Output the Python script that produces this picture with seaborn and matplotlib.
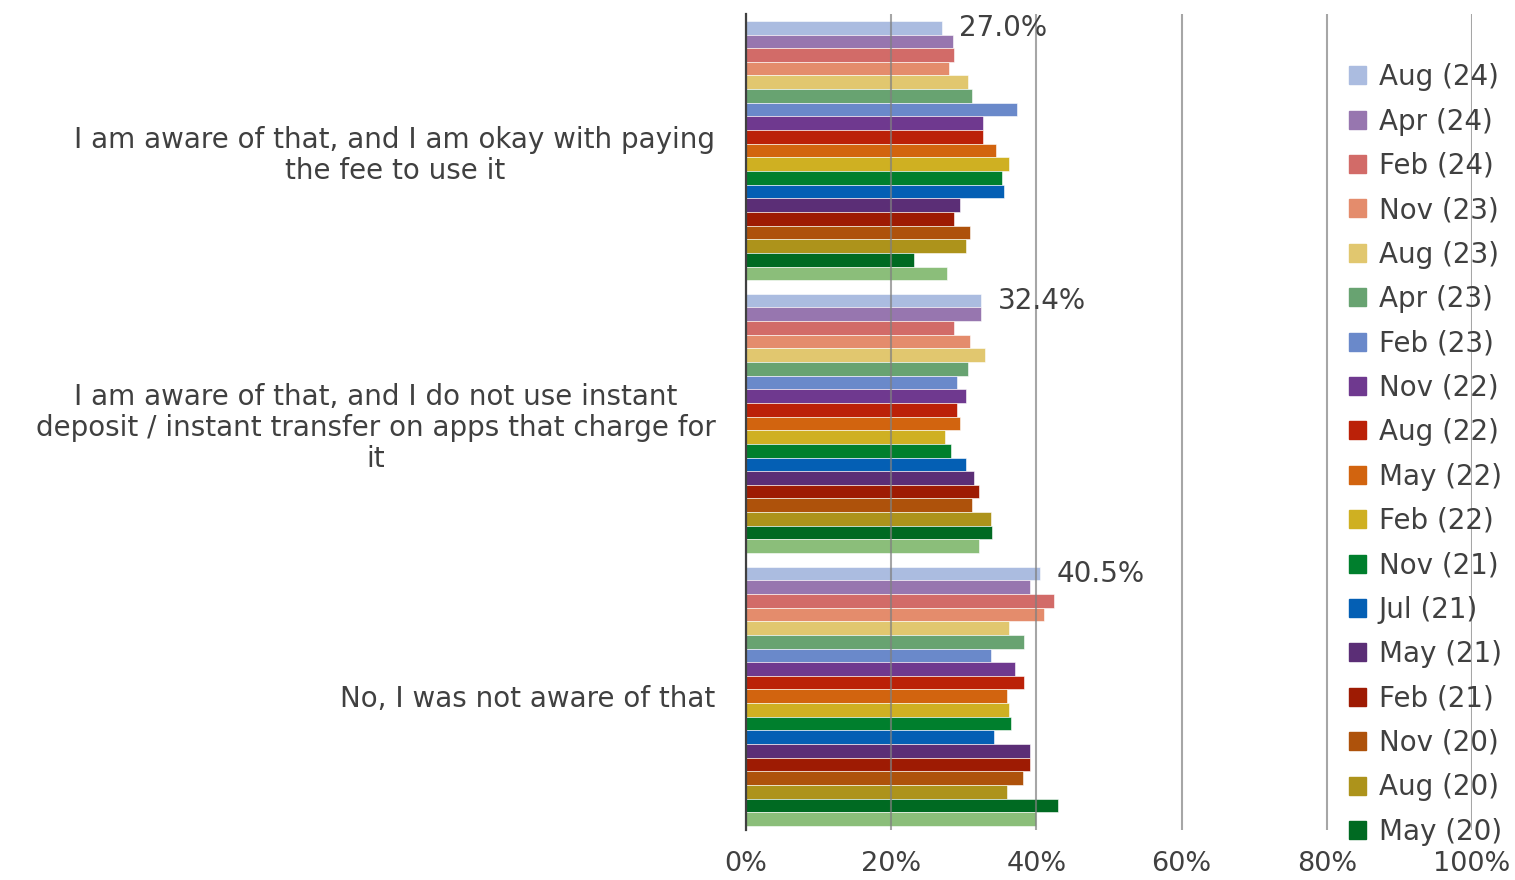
import pandas as pd
import numpy as np
import matplotlib
matplotlib.use("Agg")
import matplotlib.pyplot as plt
import seaborn as sns

# ---- data ----
categories = [
    "I am aware of that, and I am okay with paying\nthe fee to use it",
    "I am aware of that, and I do not use instant\ndeposit / instant transfer on apps that charge for\nit",
    "No, I was not aware of that",
]
waves = ["Aug (24)", "Apr (24)", "Feb (24)", "Nov (23)", "Aug (23)", "Apr (23)",
         "Feb (23)", "Nov (22)", "Aug (22)", "May (22)", "Feb (22)", "Nov (21)",
         "Jul (21)", "May (21)", "Feb (21)", "Nov (20)", "Aug (20)", "May (20)",
         "Feb (20)"]
okay_paying = [27.0, 28.5, 28.7, 28.0, 30.6, 31.1, 37.3, 32.6, 32.6, 34.4,
               36.2, 35.2, 35.5, 29.5, 28.7, 30.9, 30.3, 23.1, 27.7]
not_use = [32.4, 32.4, 28.7, 30.8, 32.9, 30.6, 29.0, 30.3, 29.0, 29.5,
           27.4, 28.2, 30.3, 31.4, 32.1, 31.1, 33.7, 33.9, 32.1]
not_aware = [40.5, 39.1, 42.4, 41.1, 36.2, 38.3, 33.7, 37.0, 38.3, 36.0,
             36.2, 36.5, 34.2, 39.1, 39.1, 38.1, 36.0, 43.0, 40.0]
colors = ["#ABBCE0", "#9776AF", "#D26B68", "#E48C6C", "#E1C76F", "#68A371",
          "#6A89CA", "#6F398F", "#BB2108", "#D2640F", "#CFB022", "#007F2D",
          "#045FB4", "#5B2E76", "#9E1B03", "#AE520B", "#AD931B", "#006A22",
          "#8BBE7A"]

rows = []
for cat, vals in zip(categories, [okay_paying, not_use, not_aware]):
    for w, v in zip(waves, vals):
        rows.append({"answer": cat, "wave": w, "pct": v})
df = pd.DataFrame(rows)

sns.set_style("white")
plt.rcParams["font.family"] = ["DejaVu Sans"]
txt = "#404040"
fs = 20

fig = plt.figure(figsize=(15.15, 8.8), dpi=100)
ax = fig.add_axes([0.4924, 0.0568, 0.4792, 0.9272])

sns.barplot(data=df, y="answer", x="pct", hue="wave", hue_order=waves,
            order=categories, palette=colors, saturation=1, orient="h",
            width=0.95, edgecolor="white", linewidth=0.4, legend=False, ax=ax)

ax.set_xlim(0, 100)
ax.set_ylim(2.49, -0.5)
ax.set_xticks([0, 20, 40, 60, 80, 100])
ax.set_xticklabels(["0%", "20%", "40%", "60%", "80%", "100%"], fontsize=19.5, color=txt)
ax.set_yticks([0, 1, 2])
ax.set_yticklabels(categories, fontsize=fs, color=txt, multialignment="center",
                   linespacing=1.15)
ax.tick_params(axis="y", length=0, pad=22)
ax.tick_params(axis="x", length=0, pad=15)
ax.set_xlabel("")
ax.set_ylabel("")

ax.set_axisbelow(False)
ax.xaxis.grid(True, color="#808080", alpha=0.7, linewidth=1.5)
ax.yaxis.grid(False)
for s in ["top", "right", "bottom"]:
    ax.spines[s].set_visible(False)
ax.spines["left"].set_color("#404040")
ax.spines["left"].set_linewidth(1.6)
ax.spines["left"].set_zorder(5)

# labels on the latest wave only
ax.bar_label(ax.containers[0], labels=["27.0%", "32.4%", "40.5%"],
             padding=12, fontsize=fs, color=txt)

# legend (last wave is cut off in the original)
handles = [plt.Rectangle((0, 0), 1, 1, color=c) for c in colors[:18]]
fig.legend(handles, waves[:18], loc="upper left",
           bbox_to_anchor=(1338 / 1515, 1 - 52 / 880), frameon=False,
           fontsize=fs, labelcolor=txt, handlelength=0.62, handleheight=0.62,
           handletextpad=0.45, labelspacing=0.59, borderaxespad=0)

fig.savefig("out.png", dpi=100)
